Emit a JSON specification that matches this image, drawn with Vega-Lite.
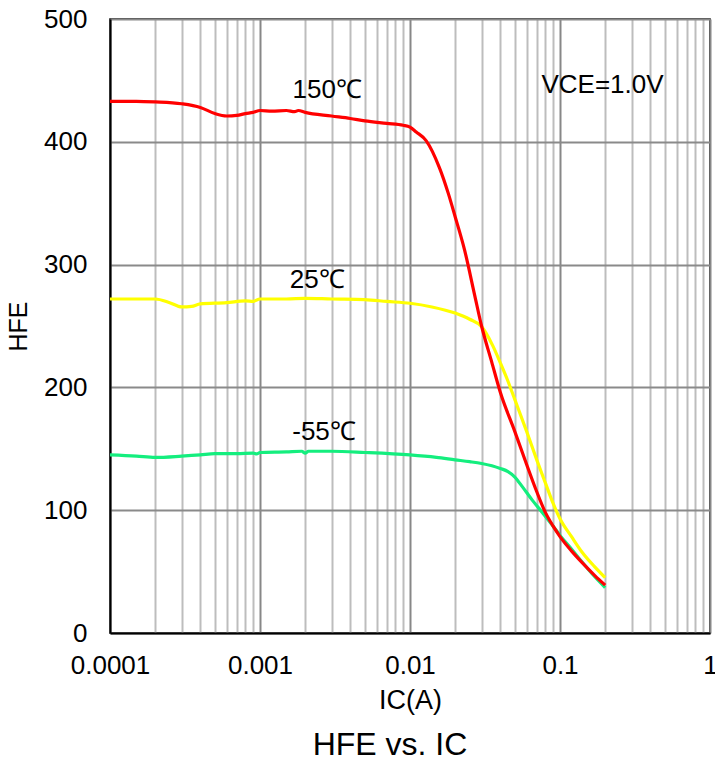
{
  "$schema": "https://vega.github.io/schema/vega-lite/v6.json",
  "width": 600,
  "height": 614,
  "autosize": {"type": "none"},
  "padding": {"left": 110, "top": 19, "right": 5, "bottom": 128},
  "background": "white",
  "config": {
    "font": "Liberation Sans",
    "view": {"stroke": "#000000", "strokeWidth": 1.5},
    "axis": {"labelColor": "#000000", "titleColor": "#000000", "titleFontWeight": "normal"}
  },
  "title": {"text": "HFE vs. IC", "orient": "bottom", "fontSize": 32, "fontWeight": "normal", "color": "#000000", "offset": 17, "dx": -20},
  "datasets": {
    "curves": [
      {"IC": 0.0001, "HFE": 145, "T": "-55"},
      {"IC": 0.00015, "HFE": 144, "T": "-55"},
      {"IC": 0.0002, "HFE": 143, "T": "-55"},
      {"IC": 0.0003, "HFE": 144, "T": "-55"},
      {"IC": 0.0004, "HFE": 145, "T": "-55"},
      {"IC": 0.0005, "HFE": 146, "T": "-55"},
      {"IC": 0.0007, "HFE": 146, "T": "-55"},
      {"IC": 0.0009, "HFE": 146.5, "T": "-55"},
      {"IC": 0.00095, "HFE": 145.8, "T": "-55"},
      {"IC": 0.001, "HFE": 147, "T": "-55"},
      {"IC": 0.0015, "HFE": 147.5, "T": "-55"},
      {"IC": 0.0019, "HFE": 148, "T": "-55"},
      {"IC": 0.002, "HFE": 146.5, "T": "-55"},
      {"IC": 0.0021, "HFE": 148, "T": "-55"},
      {"IC": 0.003, "HFE": 148, "T": "-55"},
      {"IC": 0.005, "HFE": 147, "T": "-55"},
      {"IC": 0.01, "HFE": 145, "T": "-55"},
      {"IC": 0.015, "HFE": 143, "T": "-55"},
      {"IC": 0.02, "HFE": 141, "T": "-55"},
      {"IC": 0.025, "HFE": 139.5, "T": "-55"},
      {"IC": 0.03, "HFE": 138, "T": "-55"},
      {"IC": 0.04, "HFE": 134, "T": "-55"},
      {"IC": 0.045, "HFE": 131.5, "T": "-55"},
      {"IC": 0.05, "HFE": 127, "T": "-55"},
      {"IC": 0.0562, "HFE": 119, "T": "-55"},
      {"IC": 0.0655, "HFE": 108, "T": "-55"},
      {"IC": 0.0764, "HFE": 98, "T": "-55"},
      {"IC": 0.09, "HFE": 87, "T": "-55"},
      {"IC": 0.1, "HFE": 79.5, "T": "-55"},
      {"IC": 0.12, "HFE": 68, "T": "-55"},
      {"IC": 0.14, "HFE": 58, "T": "-55"},
      {"IC": 0.17, "HFE": 46, "T": "-55"},
      {"IC": 0.2, "HFE": 37, "T": "-55"},

      {"IC": 0.0001, "HFE": 272, "T": "25"},
      {"IC": 0.0002, "HFE": 272, "T": "25"},
      {"IC": 0.00025, "HFE": 269, "T": "25"},
      {"IC": 0.0003, "HFE": 265.5, "T": "25"},
      {"IC": 0.00035, "HFE": 266, "T": "25"},
      {"IC": 0.0004, "HFE": 268, "T": "25"},
      {"IC": 0.0006, "HFE": 269, "T": "25"},
      {"IC": 0.0008, "HFE": 270.5, "T": "25"},
      {"IC": 0.0009, "HFE": 270, "T": "25"},
      {"IC": 0.001, "HFE": 272, "T": "25"},
      {"IC": 0.0015, "HFE": 272, "T": "25"},
      {"IC": 0.002, "HFE": 272.5, "T": "25"},
      {"IC": 0.003, "HFE": 272, "T": "25"},
      {"IC": 0.005, "HFE": 271.5, "T": "25"},
      {"IC": 0.007, "HFE": 270, "T": "25"},
      {"IC": 0.01, "HFE": 268.5, "T": "25"},
      {"IC": 0.014, "HFE": 265.5, "T": "25"},
      {"IC": 0.02, "HFE": 260.5, "T": "25"},
      {"IC": 0.025, "HFE": 255.5, "T": "25"},
      {"IC": 0.03, "HFE": 249.5, "T": "25"},
      {"IC": 0.0356, "HFE": 234, "T": "25"},
      {"IC": 0.04, "HFE": 220, "T": "25"},
      {"IC": 0.045, "HFE": 205, "T": "25"},
      {"IC": 0.05, "HFE": 190, "T": "25"},
      {"IC": 0.06, "HFE": 164, "T": "25"},
      {"IC": 0.07, "HFE": 141, "T": "25"},
      {"IC": 0.08, "HFE": 122, "T": "25"},
      {"IC": 0.09, "HFE": 105.5, "T": "25"},
      {"IC": 0.1, "HFE": 93, "T": "25"},
      {"IC": 0.12, "HFE": 78, "T": "25"},
      {"IC": 0.14, "HFE": 66, "T": "25"},
      {"IC": 0.17, "HFE": 54, "T": "25"},
      {"IC": 0.2, "HFE": 45, "T": "25"},

      {"IC": 0.0001, "HFE": 433, "T": "150"},
      {"IC": 0.00015, "HFE": 433, "T": "150"},
      {"IC": 0.0002, "HFE": 432.5, "T": "150"},
      {"IC": 0.0003, "HFE": 431, "T": "150"},
      {"IC": 0.0004, "HFE": 428, "T": "150"},
      {"IC": 0.0005, "HFE": 423, "T": "150"},
      {"IC": 0.0006, "HFE": 421, "T": "150"},
      {"IC": 0.0007, "HFE": 421.5, "T": "150"},
      {"IC": 0.0008, "HFE": 423, "T": "150"},
      {"IC": 0.0009, "HFE": 424, "T": "150"},
      {"IC": 0.001, "HFE": 425.5, "T": "150"},
      {"IC": 0.0012, "HFE": 425, "T": "150"},
      {"IC": 0.0015, "HFE": 425.5, "T": "150"},
      {"IC": 0.0017, "HFE": 424.5, "T": "150"},
      {"IC": 0.0018, "HFE": 425.5, "T": "150"},
      {"IC": 0.002, "HFE": 424, "T": "150"},
      {"IC": 0.003, "HFE": 421, "T": "150"},
      {"IC": 0.004, "HFE": 419, "T": "150"},
      {"IC": 0.005, "HFE": 417, "T": "150"},
      {"IC": 0.007, "HFE": 415, "T": "150"},
      {"IC": 0.009, "HFE": 413.5, "T": "150"},
      {"IC": 0.01, "HFE": 412, "T": "150"},
      {"IC": 0.011, "HFE": 408, "T": "150"},
      {"IC": 0.0128, "HFE": 401, "T": "150"},
      {"IC": 0.0157, "HFE": 379, "T": "150"},
      {"IC": 0.018, "HFE": 358, "T": "150"},
      {"IC": 0.02, "HFE": 339, "T": "150"},
      {"IC": 0.0231, "HFE": 312, "T": "150"},
      {"IC": 0.027, "HFE": 275, "T": "150"},
      {"IC": 0.03, "HFE": 250, "T": "150"},
      {"IC": 0.035, "HFE": 221, "T": "150"},
      {"IC": 0.04, "HFE": 196, "T": "150"},
      {"IC": 0.05, "HFE": 164, "T": "150"},
      {"IC": 0.06, "HFE": 137, "T": "150"},
      {"IC": 0.07, "HFE": 115, "T": "150"},
      {"IC": 0.08, "HFE": 98, "T": "150"},
      {"IC": 0.09, "HFE": 87, "T": "150"},
      {"IC": 0.1, "HFE": 78.5, "T": "150"},
      {"IC": 0.12, "HFE": 66.5, "T": "150"},
      {"IC": 0.14, "HFE": 57.5, "T": "150"},
      {"IC": 0.17, "HFE": 47, "T": "150"},
      {"IC": 0.2, "HFE": 39, "T": "150"}
    ],
    "labels": [
      {"IC": 0.00165, "HFE": 442.5, "label": "150℃"},
      {"IC": 0.00158, "HFE": 287.5, "label": "25℃"},
      {"IC": 0.00164, "HFE": 164, "label": "-55℃"},
      {"IC": 0.0752, "HFE": 446.5, "label": "VCE=1.0V"}
    ]
  },
  "encoding": {
    "x": {
      "field": "IC", "type": "quantitative",
      "scale": {"type": "log", "domain": [0.0001, 1], "nice": false},
      "axis": {
        "title": "IC(A)",
        "titleFontSize": 27,
        "titlePadding": 9,
        "values": [0.0001, 0.0002, 0.0003, 0.0004, 0.0005, 0.0006, 0.0007, 0.0008, 0.0009,
                   0.001, 0.002, 0.003, 0.004, 0.005, 0.006, 0.007, 0.008, 0.009,
                   0.01, 0.02, 0.03, 0.04, 0.05, 0.06, 0.07, 0.08, 0.09,
                   0.1, 0.2, 0.3, 0.4, 0.5, 0.6, 0.7, 0.8, 0.9, 1],
        "labelExpr": "datum.value == 0.0001 ? '0.0001' : datum.value == 0.001 ? '0.001' : datum.value == 0.01 ? '0.01' : datum.value == 0.1 ? '0.1' : datum.value == 1 ? '1' : ''",
        "labelFontSize": 26,
        "labelPadding": 19,
        "labelOverlap": false,
        "labelFlush": false,
        "ticks": false,
        "domainColor": "#000000",
        "domainWidth": 2,
        "grid": true,
        "gridColor": {"condition": {"test": "datum.value == 0.0001 || datum.value == 0.001 || datum.value == 0.01 || datum.value == 0.1 || datum.value == 1", "value": "#878787"}, "value": "#bdbdbd"},
        "gridWidth": 2,
        "gridOpacity": 1
      }
    },
    "y": {
      "field": "HFE", "type": "quantitative",
      "scale": {"domain": [0, 500], "nice": false},
      "axis": {
        "title": "HFE",
        "titleFontSize": 25,
        "titlePadding": 12,
        "values": [0, 100, 200, 300, 400, 500],
        "labelFontSize": 26,
        "labelPadding": 23,
        "ticks": false,
        "domainColor": "#000000",
        "domainWidth": 2,
        "grid": true,
        "gridColor": "#8a8a8a",
        "gridWidth": 2,
        "gridOpacity": 1
      }
    }
  },
  "layer": [
    {
      "data": {"name": "curves"},
      "transform": [{"filter": "datum.T == '-55'"}],
      "mark": {"type": "line", "interpolate": "monotone", "color": "#14ee7e", "strokeWidth": 3.2}
    },
    {
      "data": {"name": "curves"},
      "transform": [{"filter": "datum.T == '25'"}],
      "mark": {"type": "line", "interpolate": "monotone", "color": "#ffff00", "strokeWidth": 3.2}
    },
    {
      "data": {"name": "curves"},
      "transform": [{"filter": "datum.T == '150'"}],
      "mark": {"type": "line", "interpolate": "monotone", "color": "#ff0000", "strokeWidth": 3.2}
    },
    {
      "data": {"name": "labels"},
      "mark": {"type": "text", "align": "left", "baseline": "middle", "fontSize": 26, "color": "#000000"},
      "encoding": {"text": {"field": "label"}}
    }
  ]
}
